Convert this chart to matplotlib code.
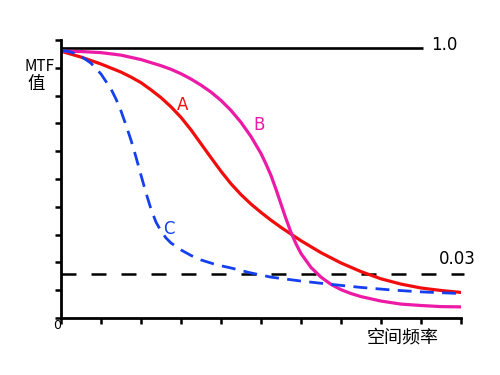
#!/usr/bin/env python3
"""MTF curves A/B/C versus spatial frequency, schematic style."""

import matplotlib

matplotlib.use("Agg")
import matplotlib.pyplot as plt

plt.rcParams["font.family"] = ["Noto Sans CJK SC", "DejaVu Sans"]

# data in grid units (x: spatial frequency 0..10, y: MTF 0..10)
a_x = [0, 0.5, 1, 1.5, 1.75, 2, 2.25, 2.5, 2.75, 3, 3.25, 3.5, 3.75, 4, 4.25,
       4.5, 4.75, 5, 5.25, 5.5, 6, 6.5, 7, 7.5, 8, 8.5, 9, 9.5, 10]
a_y = [9.60, 9.39, 9.14, 8.85, 8.67, 8.47, 8.21, 7.93, 7.60, 7.22, 6.77, 6.27,
       5.77, 5.28, 4.83, 4.44, 4.10, 3.80, 3.52, 3.26, 2.78, 2.35, 1.98, 1.67,
       1.41, 1.22, 1.08, 0.99, 0.92]

b_x = [0, 0.5, 1, 1.5, 2, 2.5, 2.75, 3, 3.25, 3.5, 3.75, 4, 4.25, 4.5, 4.75,
       5, 5.125, 5.25, 5.375, 5.5, 5.625, 5.75, 5.875, 6, 6.25, 6.5, 6.75, 7,
       7.25, 7.5, 8, 8.5, 9, 9.5, 10]
b_y = [9.60, 9.59, 9.55, 9.46, 9.30, 9.08, 8.95, 8.79, 8.60, 8.38, 8.13, 7.83,
       7.47, 7.04, 6.53, 5.92, 5.54, 5.13, 4.63, 4.10, 3.57, 3.08, 2.67, 2.32,
       1.82, 1.47, 1.21, 1.02, 0.88, 0.77, 0.61, 0.50, 0.45, 0.41, 0.40]

c_x = [0, 0.25, 0.5, 0.75, 1, 1.25, 1.375, 1.5, 1.625, 1.75, 1.875, 2, 2.125,
       2.25, 2.375, 2.5, 2.625, 2.75, 3, 3.25, 3.5, 3.875, 4.25, 4.75, 5.25,
       6, 6.75, 7.5, 8.25, 9, 10]
c_y = [9.64, 9.57, 9.42, 9.17, 8.78, 8.24, 7.88, 7.45, 6.94, 6.40, 5.79, 5.14,
       4.50, 3.92, 3.45, 3.13, 2.88, 2.70, 2.45, 2.25, 2.09, 1.92, 1.80, 1.62,
       1.47, 1.33, 1.21, 1.10, 1.01, 0.94, 0.88]

ref_levels = [9.71, 1.58]
ref_ends = [9.05, 10.08]
ref_labels = ["1.0", "0.03"]

x_ticks = list(range(11))
y_ticks = list(range(11))

RED = "#f20d0d"
PINK = "#ec1aa5"
BLUE = "#1440f0"

fig = plt.figure(figsize=(5, 3.75), dpi=100)
ax = fig.add_axes([0.122, 0.152, 0.80, 0.741])
ax.set_xlim(0, 10)
ax.set_ylim(0, 10)

ax.plot([0, ref_ends[0]], [ref_levels[0]] * 2, color="black", lw=1.9,
        solid_capstyle="butt")
ax.plot([0, ref_ends[1]], [ref_levels[1]] * 2, color="black", lw=1.8,
        linestyle=(0, (6, 6)), clip_on=False)
ax.text(ref_ends[0] + 0.2, ref_levels[0] + 0.12, ref_labels[0], fontsize=12,
        ha="left", va="center", family="DejaVu Sans")
ax.text(9.9, ref_levels[1] + 0.55, ref_labels[1], fontsize=12,
        ha="center", va="center", family="DejaVu Sans")

ax.plot(a_x, a_y, color=RED, lw=2.3, solid_capstyle="round",
        solid_joinstyle="round")
ax.plot(b_x, b_y, color=PINK, lw=2.3, solid_capstyle="round",
        solid_joinstyle="round")
ax.plot(c_x, c_y, color=BLUE, lw=2.0, linestyle=(0, (5, 3)))

ax.text(3.05, 7.65, "A", color=RED, fontsize=12, ha="center", va="center",
        family="DejaVu Sans")
ax.text(4.95, 6.95, "B", color=PINK, fontsize=12, ha="center", va="center",
        family="DejaVu Sans")
ax.text(2.7, 3.2, "C", color=BLUE, fontsize=12, ha="center", va="center",
        family="DejaVu Sans")

for side in ("top", "right"):
    ax.spines[side].set_visible(False)
for side in ("left", "bottom"):
    ax.spines[side].set_linewidth(2.0)
ax.set_xticks(x_ticks)
ax.set_yticks(y_ticks)
ax.tick_params(direction="out", length=4, width=1.8, labelbottom=False,
               labelleft=False)

fig.text(0.08, 0.822, "MTF", fontsize=11, ha="center", va="center")
fig.text(0.072, 0.775, "值", fontsize=12.5, ha="center", va="center")
fig.text(0.806, 0.101, "空间频率", fontsize=13, ha="center", va="center")
fig.text(0.114, 0.131, "0", fontsize=9, ha="center", va="center",
         family="DejaVu Sans")

fig.savefig("out.png", dpi=100)
plt.close(fig)
